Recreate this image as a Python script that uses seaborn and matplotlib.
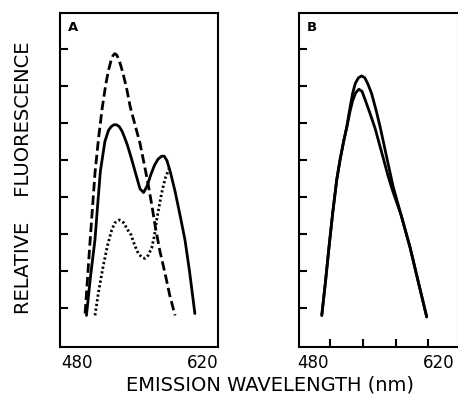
import matplotlib
matplotlib.use("Agg")
import matplotlib.pyplot as plt
import seaborn as sns

# ---------------- data ----------------
# Panel A : relative fluorescence vs emission wavelength (nm)
a_dash_nm = [489, 494.5, 500, 504, 508, 512, 515, 518, 520, 522, 524, 526.5, 529, 531, 535, 539,
             545, 550, 555, 559, 563, 567, 572, 578, 583, 589]
a_dash_val = [0.85, 2.8, 4.65, 5.6, 6.4, 7.05, 7.42, 7.7, 7.82, 7.87, 7.84, 7.72, 7.52, 7.35, 6.95, 6.45,
              5.9, 5.45, 4.85, 4.35, 3.8, 3.2, 2.55, 1.92, 1.35, 0.8]

a_solid_nm = [490.5, 495, 500, 503, 506, 511, 515, 518, 521, 524, 527, 530, 533, 536, 540, 545, 550,
              554, 558, 562, 566, 570, 574, 577, 580, 584, 589, 595, 600, 605, 611]
a_solid_val = [0.8, 1.85, 2.85, 3.8, 4.7, 5.5, 5.8, 5.9, 5.95, 5.95, 5.9, 5.78, 5.6, 5.4, 5.08, 4.65, 4.22,
               4.12, 4.3, 4.6, 4.85, 5.02, 5.1, 5.1, 4.98, 4.65, 4.15, 3.45, 2.84, 2.0, 0.85]

a_dot_nm = [500, 504, 509, 514, 518.5, 522, 527, 532, 536, 540, 544, 548, 552, 555.5,
            559, 563, 566, 568.5, 574, 578, 583]
a_dot_val = [0.8, 1.45, 2.12, 2.7, 3.1, 3.3, 3.38, 3.3, 3.12, 2.98, 2.7, 2.48, 2.37, 2.34,
             2.42, 2.62, 2.95, 3.38, 4.1, 4.5, 4.8]

# Panel B : two solid spectra
b_upper_nm = [489.7, 494, 497.8, 502, 506.3, 510, 514, 517.5, 521, 524, 527, 530.5, 534,
              537.5, 541, 545, 550, 554.5, 558.5, 562.5, 569, 578, 588, 597, 606.3]
b_upper_val = [0.8, 1.75, 2.66, 3.6, 4.46, 5.0, 5.5, 5.9, 6.4, 6.8, 7.07, 7.22, 7.27,
               7.22, 7.05, 6.8, 6.35, 5.9, 5.45, 5.0, 4.28, 3.5, 2.62, 1.7, 0.76]

b_lower_nm = [489.7, 494, 497.8, 502, 506.3, 510, 514, 517.5, 521, 524, 527.5, 531, 534.5,
              538, 543, 549, 553.5, 558, 563, 568, 573, 578, 588, 597, 606.3]
b_lower_val = [0.8, 1.75, 2.66, 3.6, 4.46, 5.0, 5.5, 5.88, 6.3, 6.6, 6.82, 6.91, 6.85,
               6.62, 6.28, 5.85, 5.45, 5.05, 4.6, 4.2, 3.85, 3.5, 2.62, 1.7, 0.76]

x_tick_labels = ["480", "620"]
x_tick_values = [480, 620]
y_tick_values = [1, 2, 3, 4, 5, 6, 7, 8]
b_minor_ticks = [498.9, 535.6, 572.2, 607.8]

panel_labels = ["A", "B"]
x_label = "EMISSION WAVELENGTH (nm)"
y_label = "RELATIVE    FLUORESCENCE"

# ---------------- figure ----------------
sns.set_style("ticks")
plt.rcParams["font.family"] = ["DejaVu Sans"]
plt.rcParams["text.color"] = "black"
plt.rcParams["xtick.color"] = "black"
plt.rcParams["ytick.color"] = "black"
plt.rcParams["axes.edgecolor"] = "black"

W, H = 458, 400
fig = plt.figure(figsize=(W / 100, H / 100), dpi=100)
axA = fig.add_axes([60 / W, 53 / H, 158 / W, 334 / H])
axB = fig.add_axes([299 / W, 53 / H, 160 / W, 334 / H])

lw = 2.0
sns.lineplot(x=a_dot_nm, y=a_dot_val, ax=axA, color="black", lw=lw,
             linestyle=(0, (0.8, 0.9)), estimator=None, sort=False)
sns.lineplot(x=a_dash_nm, y=a_dash_val, ax=axA, color="black", lw=lw,
             linestyle=(0, (3.4, 1.5)), estimator=None, sort=False)
sns.lineplot(x=a_solid_nm, y=a_solid_val, ax=axA, color="black", lw=lw,
             estimator=None, sort=False)

sns.lineplot(x=b_upper_nm, y=b_upper_val, ax=axB, color="black", lw=lw,
             estimator=None, sort=False)
sns.lineplot(x=b_lower_nm, y=b_lower_val, ax=axB, color="black", lw=lw,
             estimator=None, sort=False)

ylim = (-0.054, 8.97)
axA.set_xlim(461.1, 636.7)
axB.set_xlim(464.4, 642.2)

for ax, lab in zip([axA, axB], panel_labels):
    ax.set_ylim(*ylim)
    for s in ax.spines.values():
        s.set_visible(True)
        s.set_linewidth(1.5)
        s.set_color("black")
    ax.set_yticks(y_tick_values)
    ax.set_yticklabels([])
    ax.tick_params(axis="y", which="major", direction="in", length=6, width=1.5,
                   left=True, right=False, labelleft=False, color="black")
    ax.set_xticks(x_tick_values)
    ax.set_xticklabels(x_tick_labels)
    ax.tick_params(axis="x", which="major", length=0, pad=5, labelsize=12,
                   labelcolor="black")
    ax.set_xlabel("")
    ax.set_ylabel("")
    ax.text(0.08, 0.958, lab, transform=ax.transAxes, fontsize=9.5, color="black",
            fontweight="bold", ha="center", va="center")

axB.set_xticks(b_minor_ticks, minor=True)
axB.tick_params(axis="x", which="minor", direction="in", length=6, width=1.5,
                bottom=True, color="black")

fig.text(270 / W, 1 - 385 / H, x_label, ha="center", va="center", fontsize=14,
         color="black")
fig.text(24 / W, 1 - 178 / H, y_label, ha="center", va="center", fontsize=14,
         rotation=90, color="black")

fig.savefig("out.png", dpi=100)
